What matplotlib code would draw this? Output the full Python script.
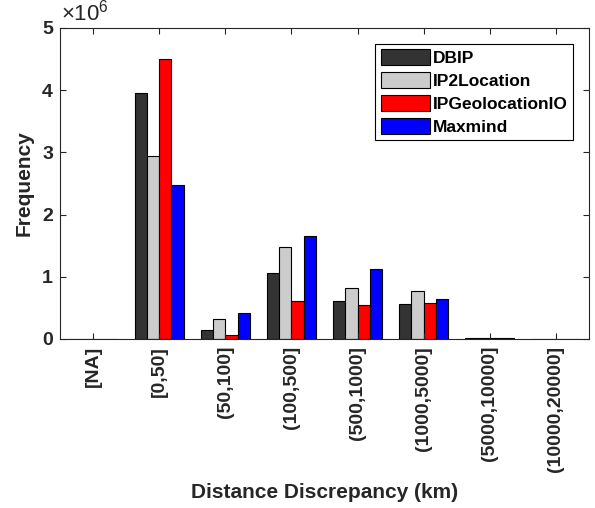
import matplotlib
matplotlib.use("Agg")
import matplotlib.pyplot as plt
import numpy as np

plt.rcParams['font.family'] = ['Liberation Sans', 'DejaVu Sans']
plt.rcParams['font.weight'] = 'bold'
plt.rcParams['mathtext.default'] = 'regular'

categories = ['[NA]', '[0,50]', '(50,100]', '(100,500]', '(500,1000]',
              '(1000,5000]', '(5000,10000]', '(10000,20000]']
series_names = ['DBIP', 'IP2Location', 'IPGeolocationIO', 'Maxmind']
dbip = [0.003e6, 3.95e6, 0.15e6, 1.06e6, 0.61e6, 0.56e6, 0.010e6, 0.005e6]
ip2location = [0.003e6, 2.94e6, 0.32e6, 1.48e6, 0.815e6, 0.77e6, 0.010e6, 0.005e6]
ipgeolocationio = [0.003e6, 4.50e6, 0.06e6, 0.61e6, 0.54e6, 0.58e6, 0.020e6, 0.005e6]
maxmind = [0.003e6, 2.47e6, 0.42e6, 1.66e6, 1.12e6, 0.64e6, 0.010e6, 0.005e6]
colors = ['#333333', '#cccccc', '#ff0000', '#0000ff']
yticks = [0, 1e6, 2e6, 3e6, 4e6, 5e6]

fig = plt.figure(figsize=(5.95, 5.08), dpi=100)
ax = fig.add_axes([0.1008, 0.3327, 0.8892, 0.6123])

x = np.arange(1, len(categories) + 1)
width = 0.186
for i, (name, vals) in enumerate(zip(series_names, [dbip, ip2location, ipgeolocationio, maxmind])):
    offs = (i - 1.5) * width
    ax.bar(x + offs, vals, width, color=colors[i], edgecolor='black',
           linewidth=0.8, label=name)

ax.set_xlim(0.5, len(categories) + 0.5)
ax.set_ylim(0, 5e6)
ax.set_xticks(x)
ax.set_xticklabels(categories, rotation=90, fontsize=14, fontweight='bold',
                   color='#262626')
ax.set_yticks(yticks)
ax.set_yticklabels([f'{v / 1e6:.0f}' for v in yticks], fontsize=14,
                   fontweight='bold', color='#262626')
ax.tick_params(direction='in', length=4.5, width=0.8, top=True, right=True,
               color='#262626', pad=5)
for s in ax.spines.values():
    s.set_color('#262626')
    s.set_linewidth(0.8)

ax.set_ylabel('Frequency', fontsize=15, fontweight='bold', color='#262626')
ax.yaxis.set_label_coords(-0.05, 0.5)
ax.set_xlabel('Distance Discrepancy (km)', fontsize=15, fontweight='bold',
              color='#262626')
ax.xaxis.set_label_coords(0.5, -0.463)

# exponent label like MATLAB
ax.text(0.002, 1.008, r'$\times10^{6}$', transform=ax.transAxes, fontsize=16,
        color='#262626', va='bottom', ha='left', fontweight='normal')

leg = ax.legend(loc='upper right', fontsize=12.5, fancybox=False,
                edgecolor='black', framealpha=1, borderaxespad=0.9,
                handlelength=2.8, handleheight=1.03, handletextpad=0.2,
                labelspacing=0.35, borderpad=0.32)
leg.get_frame().set_linewidth(0.8)
for t in leg.get_texts():
    t.set_fontweight('bold')

fig.savefig('out.png', dpi=100)
